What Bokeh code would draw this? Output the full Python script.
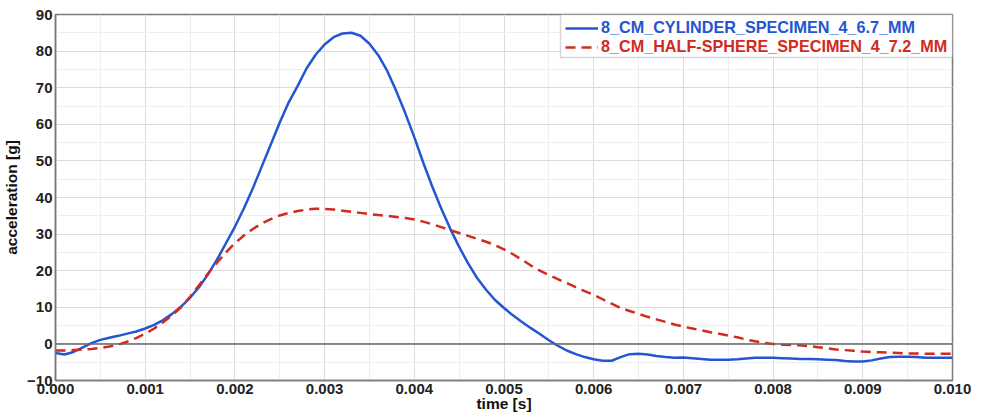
import numpy as np
from bokeh.plotting import figure
from bokeh.models import (Legend, LegendItem, Span, BoxAnnotation, FixedTicker,
                          PrintfTickFormatter)
from bokeh.embed import file_html
from bokeh.resources import INLINE

time_s = np.round(np.linspace(0.0, 0.01, 101), 5)

cylinder = [
    -2.5, -2.9, -2.2, -1.0, 0.2, 1.1, 1.7, 2.2, 2.8, 3.4,
    4.2, 5.2, 6.5, 8.2, 10.2, 12.6, 15.5, 19.0, 23.0, 27.5,
    32.0, 37.0, 42.5, 48.5, 54.5, 60.5, 66.0, 70.5, 75.3, 79.0,
    81.8, 83.8, 84.8, 85.0, 84.2, 82.0, 78.8, 74.5, 69.0, 63.0,
    56.5, 49.5, 43.0, 37.0, 31.5, 26.5, 22.0, 18.0, 14.8, 12.0,
    9.8, 7.8, 6.0, 4.3, 2.7, 1.0, -0.5, -1.8, -2.8, -3.6,
    -4.2, -4.6, -4.6, -3.6, -2.8, -2.7, -2.9, -3.3, -3.6, -3.8,
    -3.7, -3.9, -4.1, -4.3, -4.3, -4.3, -4.2, -4.0, -3.8, -3.8,
    -3.8, -3.9, -4.0, -4.1, -4.1, -4.2, -4.3, -4.4, -4.7, -4.8,
    -4.8, -4.5, -4.0, -3.6, -3.5, -3.5, -3.6, -3.8, -3.8, -3.8,
    -3.8,
]

half_sphere = [
    -1.8, -1.8, -1.7, -1.6, -1.4, -1.1, -0.7, -0.2, 0.6, 1.6,
    2.8, 4.2, 5.9, 7.8, 10.0, 12.9, 16.0, 19.2, 22.2, 25.0,
    27.5, 29.6, 31.4, 32.9, 34.1, 35.1, 35.8, 36.3, 36.7, 36.9,
    36.9, 36.7, 36.4, 36.1, 35.8, 35.5, 35.2, 35.0, 34.7, 34.4,
    34.0, 33.4, 32.7, 31.9, 31.1, 30.3, 29.5, 28.7, 27.9, 27.0,
    25.8, 24.5, 23.0, 21.4, 20.0, 18.8, 17.7, 16.6, 15.5, 14.4,
    13.4, 12.2, 11.0, 9.8, 9.0, 8.2, 7.4, 6.7, 6.0, 5.3,
    4.7, 4.2, 3.7, 3.2, 2.8, 2.3, 1.8, 1.2, 0.7, 0.3,
    0.0, -0.2, -0.3, -0.4, -0.6, -0.9, -1.2, -1.5, -1.7, -1.9,
    -2.1, -2.2, -2.3, -2.4, -2.5, -2.6, -2.6, -2.7, -2.7, -2.7,
    -2.7,
]

series_names = ["8_CM_CYLINDER_SPECIMEN_4_6.7_MM",
                "8_CM_HALF-SPHERE_SPECIMEN_4_7.2_MM"]

x_ticks = [0.000, 0.001, 0.002, 0.003, 0.004, 0.005, 0.006, 0.007, 0.008, 0.009, 0.010]
y_ticks = [-10, 0, 10, 20, 30, 40, 50, 60, 70, 80, 90]

BLUE = "#2356d0"
RED = "#d12a1f"
FONT = "Liberation Sans"

p = figure(width=980, height=416, output_backend="svg", toolbar_location=None,
           x_range=(0.0, 0.01), y_range=(-10, 90),
           min_border_left=55, min_border_right=28, min_border_top=14,
           min_border_bottom=36)

x_minor = [i * 0.0005 for i in range(21)]
y_minor = list(range(-10, 91, 5))
p.xaxis.ticker = FixedTicker(ticks=x_ticks, minor_ticks=x_minor)
p.yaxis.ticker = FixedTicker(ticks=y_ticks, minor_ticks=y_minor)
p.xaxis.formatter = PrintfTickFormatter(format="%.3f")

for ax in (p.xaxis[0], p.yaxis[0]):
    ax.major_label_text_font = FONT
    ax.major_label_text_font_style = "bold"
    ax.major_label_text_font_size = "15px"
    ax.major_label_text_color = "#222222"
    ax.axis_label_text_font = FONT
    ax.axis_label_text_font_style = "bold"
    ax.axis_label_text_font_size = "15.5px"
    ax.axis_label_text_color = "#111111"
    ax.major_tick_out = 0
    ax.major_tick_in = 0
    ax.minor_tick_out = 0
    ax.minor_tick_in = 0
    ax.axis_line_color = "#7a7a7a"
    ax.axis_line_width = 1.5

p.xaxis.axis_label = "time [s]"
p.yaxis.axis_label = "acceleration [g]"
p.xaxis.major_label_standoff = 3
p.xaxis.axis_label_standoff = -2
p.yaxis.major_label_standoff = 3
p.yaxis.axis_label_standoff = 4

for g in (p.xgrid[0], p.ygrid[0]):
    g.grid_line_color = "#dcdcdc"
    g.grid_line_width = 1
    g.minor_grid_line_color = "#eeeeee"
    g.minor_grid_line_width = 1

p.outline_line_color = "#7a7a7a"
p.outline_line_width = 1.5
p.background_fill_color = "white"
p.border_fill_color = "white"

p.add_layout(Span(location=0, dimension="width", line_color="#666666", line_width=1.5))

r1 = p.line(time_s, cylinder, line_color=BLUE, line_width=2.5)
r2 = p.line(time_s, half_sphere, line_color=RED, line_width=2.5, line_dash="10 6")

box = BoxAnnotation(left=0.00563, right=0.01, bottom=78.25, top=90,
                    fill_color="white", fill_alpha=1.0,
                    line_color="#7a7a7a", line_width=1.5)
p.add_layout(box)

fh = 366
common = dict(margin=0, padding=2, spacing=0, glyph_width=33, glyph_height=18,
              label_height=18, label_standoff=3, border_line_color=None,
              background_fill_alpha=0.0, label_text_font=FONT,
              label_text_font_style="bold", label_text_font_size="16.2px")
leg1 = Legend(items=[LegendItem(label=series_names[0], renderers=[r1])],
              location=(510, fh - 23), label_text_color=BLUE, **common)
leg2 = Legend(items=[LegendItem(label=series_names[1], renderers=[r2])],
              location=(510, fh - 42), label_text_color=RED, **common)
p.add_layout(leg1)
p.add_layout(leg2)

open("out.html", "w").write(file_html(p, INLINE))
